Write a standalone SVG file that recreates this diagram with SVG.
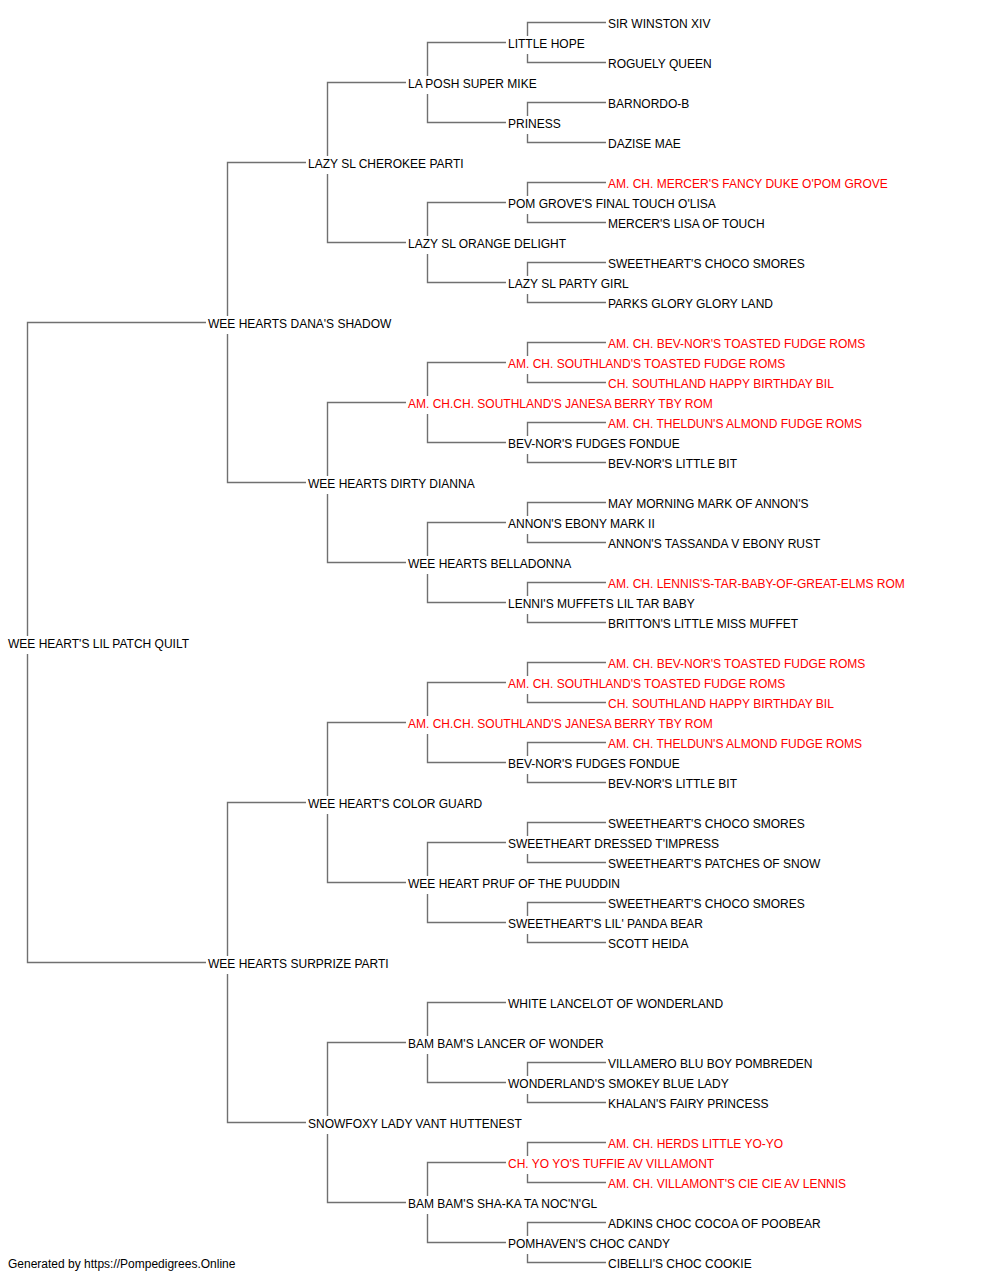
<svg xmlns="http://www.w3.org/2000/svg" width="1000" height="1280" viewBox="0 0 1000 1280">
<style>
text{font-family:"Liberation Sans",Arial,sans-serif;font-size:12px;fill:#000}
text.ch{fill:#ff0000}
.ln{fill:none;stroke:#707070;stroke-width:1.4}
</style>
<rect width="1000" height="1280" fill="#fff"/>
<g id="connectors" class="ln">
<path d="M206 322.5H27.5V636M27.5 654V962.5H206"/>
<path d="M306 162.5H227.5V316M227.5 334V482.5H306"/>
<path d="M306 802.5H227.5V956M227.5 974V1122.5H306"/>
<path d="M406 82.5H327.5V156M327.5 174V242.5H406"/>
<path d="M406 402.5H327.5V476M327.5 494V562.5H406"/>
<path d="M406 722.5H327.5V796M327.5 814V882.5H406"/>
<path d="M406 1042.5H327.5V1116M327.5 1134V1202.5H406"/>
<path d="M506 42.5H427.5V76M427.5 94V122.5H506"/>
<path d="M506 202.5H427.5V236M427.5 254V282.5H506"/>
<path d="M506 362.5H427.5V396M427.5 414V442.5H506"/>
<path d="M506 522.5H427.5V556M427.5 574V602.5H506"/>
<path d="M506 682.5H427.5V716M427.5 734V762.5H506"/>
<path d="M506 842.5H427.5V876M427.5 894V922.5H506"/>
<path d="M506 1002.5H427.5V1036M427.5 1054V1082.5H506"/>
<path d="M506 1162.5H427.5V1196M427.5 1214V1242.5H506"/>
<path d="M606 22.5H527.5V36M527.5 54V62.5H606"/>
<path d="M606 102.5H527.5V116M527.5 134V142.5H606"/>
<path d="M606 182.5H527.5V196M527.5 214V222.5H606"/>
<path d="M606 262.5H527.5V276M527.5 294V302.5H606"/>
<path d="M606 342.5H527.5V356M527.5 374V382.5H606"/>
<path d="M606 422.5H527.5V436M527.5 454V462.5H606"/>
<path d="M606 502.5H527.5V516M527.5 534V542.5H606"/>
<path d="M606 582.5H527.5V596M527.5 614V622.5H606"/>
<path d="M606 662.5H527.5V676M527.5 694V702.5H606"/>
<path d="M606 742.5H527.5V756M527.5 774V782.5H606"/>
<path d="M606 822.5H527.5V836M527.5 854V862.5H606"/>
<path d="M606 902.5H527.5V916M527.5 934V942.5H606"/>
<path d="M606 1062.5H527.5V1076M527.5 1094V1102.5H606"/>
<path d="M606 1142.5H527.5V1156M527.5 1174V1182.5H606"/>
<path d="M606 1222.5H527.5V1236M527.5 1254V1262.5H606"/>
</g>
<g id="n-subject"><text x="8" y="648">WEE HEART'S LIL PATCH QUILT</text></g>
<g id="n-s"><text x="208" y="328">WEE HEARTS DANA'S SHADOW</text></g>
<g id="n-d"><text x="208" y="968">WEE HEARTS SURPRIZE PARTI</text></g>
<g id="n-ss"><text x="308" y="168">LAZY SL CHEROKEE PARTI</text></g>
<g id="n-sd"><text x="308" y="488">WEE HEARTS DIRTY DIANNA</text></g>
<g id="n-ds"><text x="308" y="808">WEE HEART'S COLOR GUARD</text></g>
<g id="n-dd"><text x="308" y="1128">SNOWFOXY LADY VANT HUTTENEST</text></g>
<g id="n-sss"><text x="408" y="88">LA POSH SUPER MIKE</text></g>
<g id="n-ssd"><text x="408" y="248">LAZY SL ORANGE DELIGHT</text></g>
<g id="n-sds"><text class="ch" x="408" y="408">AM. CH.CH. SOUTHLAND'S JANESA BERRY TBY ROM</text></g>
<g id="n-sdd"><text x="408" y="568">WEE HEARTS BELLADONNA</text></g>
<g id="n-dss"><text class="ch" x="408" y="728">AM. CH.CH. SOUTHLAND'S JANESA BERRY TBY ROM</text></g>
<g id="n-dsd"><text x="408" y="888">WEE HEART PRUF OF THE PUUDDIN</text></g>
<g id="n-dds"><text x="408" y="1048">BAM BAM'S LANCER OF WONDER</text></g>
<g id="n-ddd"><text x="408" y="1208">BAM BAM'S SHA-KA TA NOC'N'GL</text></g>
<g id="n-g4-1"><text x="508" y="48">LITTLE HOPE</text></g>
<g id="n-g4-2"><text x="508" y="128">PRINESS</text></g>
<g id="n-g4-3"><text x="508" y="208">POM GROVE'S FINAL TOUCH O'LISA</text></g>
<g id="n-g4-4"><text x="508" y="288">LAZY SL PARTY GIRL</text></g>
<g id="n-g4-5"><text class="ch" x="508" y="368">AM. CH. SOUTHLAND'S TOASTED FUDGE ROMS</text></g>
<g id="n-g4-6"><text x="508" y="448">BEV-NOR'S FUDGES FONDUE</text></g>
<g id="n-g4-7"><text x="508" y="528">ANNON'S EBONY MARK II</text></g>
<g id="n-g4-8"><text x="508" y="608">LENNI'S MUFFETS LIL TAR BABY</text></g>
<g id="n-g4-9"><text class="ch" x="508" y="688">AM. CH. SOUTHLAND'S TOASTED FUDGE ROMS</text></g>
<g id="n-g4-10"><text x="508" y="768">BEV-NOR'S FUDGES FONDUE</text></g>
<g id="n-g4-11"><text x="508" y="848">SWEETHEART DRESSED T'IMPRESS</text></g>
<g id="n-g4-12"><text x="508" y="928">SWEETHEART'S LIL' PANDA BEAR</text></g>
<g id="n-g4-13"><text x="508" y="1008">WHITE LANCELOT OF WONDERLAND</text></g>
<g id="n-g4-14"><text x="508" y="1088">WONDERLAND'S SMOKEY BLUE LADY</text></g>
<g id="n-g4-15"><text class="ch" x="508" y="1168">CH. YO YO'S TUFFIE AV VILLAMONT</text></g>
<g id="n-g4-16"><text x="508" y="1248">POMHAVEN'S CHOC CANDY</text></g>
<g id="n-g5-1"><text x="608" y="28">SIR WINSTON XIV</text></g>
<g id="n-g5-2"><text x="608" y="68">ROGUELY QUEEN</text></g>
<g id="n-g5-3"><text x="608" y="108">BARNORDO-B</text></g>
<g id="n-g5-4"><text x="608" y="148">DAZISE MAE</text></g>
<g id="n-g5-5"><text class="ch" x="608" y="188">AM. CH. MERCER'S FANCY DUKE O'POM GROVE</text></g>
<g id="n-g5-6"><text x="608" y="228">MERCER'S LISA OF TOUCH</text></g>
<g id="n-g5-7"><text x="608" y="268">SWEETHEART'S CHOCO SMORES</text></g>
<g id="n-g5-8"><text x="608" y="308">PARKS GLORY GLORY LAND</text></g>
<g id="n-g5-9"><text class="ch" x="608" y="348">AM. CH. BEV-NOR'S TOASTED FUDGE ROMS</text></g>
<g id="n-g5-10"><text class="ch" x="608" y="388">CH. SOUTHLAND HAPPY BIRTHDAY BIL</text></g>
<g id="n-g5-11"><text class="ch" x="608" y="428">AM. CH. THELDUN'S ALMOND FUDGE ROMS</text></g>
<g id="n-g5-12"><text x="608" y="468">BEV-NOR'S LITTLE BIT</text></g>
<g id="n-g5-13"><text x="608" y="508">MAY MORNING MARK OF ANNON'S</text></g>
<g id="n-g5-14"><text x="608" y="548">ANNON'S TASSANDA V EBONY RUST</text></g>
<g id="n-g5-15"><text class="ch" x="608" y="588">AM. CH. LENNIS'S-TAR-BABY-OF-GREAT-ELMS ROM</text></g>
<g id="n-g5-16"><text x="608" y="628">BRITTON'S LITTLE MISS MUFFET</text></g>
<g id="n-g5-17"><text class="ch" x="608" y="668">AM. CH. BEV-NOR'S TOASTED FUDGE ROMS</text></g>
<g id="n-g5-18"><text class="ch" x="608" y="708">CH. SOUTHLAND HAPPY BIRTHDAY BIL</text></g>
<g id="n-g5-19"><text class="ch" x="608" y="748">AM. CH. THELDUN'S ALMOND FUDGE ROMS</text></g>
<g id="n-g5-20"><text x="608" y="788">BEV-NOR'S LITTLE BIT</text></g>
<g id="n-g5-21"><text x="608" y="828">SWEETHEART'S CHOCO SMORES</text></g>
<g id="n-g5-22"><text x="608" y="868">SWEETHEART'S PATCHES OF SNOW</text></g>
<g id="n-g5-23"><text x="608" y="908">SWEETHEART'S CHOCO SMORES</text></g>
<g id="n-g5-24"><text x="608" y="948">SCOTT HEIDA</text></g>
<g id="n-g5-27"><text x="608" y="1068">VILLAMERO BLU BOY POMBREDEN</text></g>
<g id="n-g5-28"><text x="608" y="1108">KHALAN'S FAIRY PRINCESS</text></g>
<g id="n-g5-29"><text class="ch" x="608" y="1148">AM. CH. HERDS LITTLE YO-YO</text></g>
<g id="n-g5-30"><text class="ch" x="608" y="1188">AM. CH. VILLAMONT'S CIE CIE AV LENNIS</text></g>
<g id="n-g5-31"><text x="608" y="1228">ADKINS CHOC COCOA OF POOBEAR</text></g>
<g id="n-g5-32"><text x="608" y="1268">CIBELLI'S CHOC COOKIE</text></g>
<g id="footer"><text x="8" y="1268">Generated by https://Pompedigrees.Online</text></g>
</svg>
